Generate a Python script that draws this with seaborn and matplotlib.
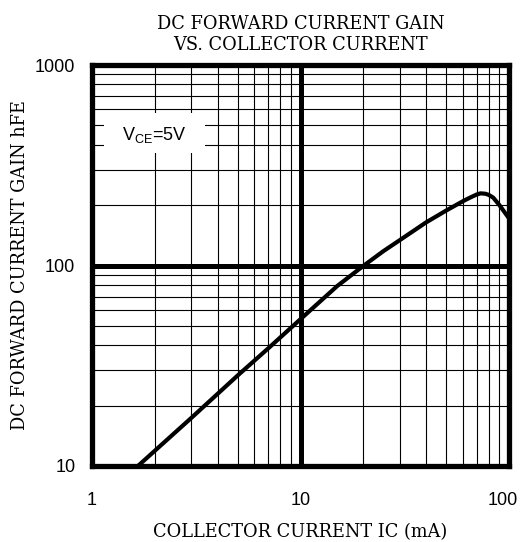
import matplotlib
matplotlib.use("Agg")
import matplotlib.pyplot as plt
import matplotlib.transforms as mtransforms
from matplotlib.ticker import LogLocator, FixedLocator, NullFormatter, FixedFormatter
from matplotlib.patches import Rectangle
import seaborn as sns
import pandas as pd

# Data
ic_ma = [1.66, 3, 5, 7, 10, 15, 20, 25, 30, 40, 50, 60, 65, 70, 73, 77, 80, 84, 90, 95, 100]
hfe = [10, 17.4, 28.3, 38.6, 54, 79, 99.5, 118, 134, 164, 188, 209, 218, 226, 229, 228, 225, 218, 200, 185, 172]

x_ticks = [1, 10, 100]
x_tick_labels = ["1", "10", "100"]
y_ticks = [10, 100, 1000]
y_tick_labels = ["10", "100", "1000"]

title = "DC FORWARD CURRENT GAIN\nVS. COLLECTOR CURRENT"
xlabel = "COLLECTOR CURRENT IC (mA)"
ylabel = "DC FORWARD CURRENT GAIN hFE"
note = r"V$_{\mathregular{CE}}$=5V"

sns.set_style("white")
plt.rcParams['font.family'] = ['Liberation Sans', 'DejaVu Sans']
plt.rcParams['mathtext.fontset'] = 'custom'
plt.rcParams['mathtext.rm'] = 'Liberation Sans'

df = pd.DataFrame({"ic": ic_ma, "hfe": hfe})

fig = plt.figure(figsize=(5.22, 5.42), dpi=100)
ax = fig.add_axes([92/522, 76/542, (509-92)/522, (466-65)/542])

sns.lineplot(data=df, x="ic", y="hfe", ax=ax, color="black", lw=3, zorder=5,
             sort=False, estimator=None)

ax.set_xscale("log")
ax.set_yscale("log")
ax.set_xlim(1, 100)
ax.set_ylim(10, 1000)

ax.xaxis.set_major_locator(FixedLocator(x_ticks))
ax.xaxis.set_major_formatter(FixedFormatter(x_tick_labels))
ax.yaxis.set_major_locator(FixedLocator(y_ticks))
ax.yaxis.set_major_formatter(FixedFormatter(y_tick_labels))
ax.xaxis.set_minor_locator(LogLocator(base=10, subs=range(2, 10)))
ax.yaxis.set_minor_locator(LogLocator(base=10, subs=range(2, 10)))
ax.xaxis.set_minor_formatter(NullFormatter())
ax.yaxis.set_minor_formatter(NullFormatter())

ax.grid(which="major", color="black", lw=3.6, zorder=1)
ax.grid(which="minor", color="black", lw=0.8, zorder=1)
ax.set_axisbelow(True)

ax.tick_params(which="both", length=0)
ax.tick_params(axis="x", pad=19, labelsize=13)
ax.tick_params(axis="y", pad=12, labelsize=13)
for lab in ax.get_xticklabels() + ax.get_yticklabels():
    lab.set_color("black")
# nudge the last x label left so it stays inside the figure
last = ax.get_xticklabels()[-1]
last.set_transform(last.get_transform() + mtransforms.ScaledTranslation(-6/100, 0, fig.dpi_scale_trans))

for s in ax.spines.values():
    s.set_visible(True)
    s.set_color("black")
    s.set_linewidth(3.8)
    s.set_zorder(6)

serif = ["DejaVu Serif"]
ax.set_xlabel(xlabel, family=serif, fontsize=12.8, labelpad=10, color="black")
ax.set_ylabel(ylabel, family=serif, fontsize=12.8, labelpad=4, color="black")
ax.set_title(title, family=serif, fontsize=12.8, pad=11, linespacing=1.2, color="black")

ax.add_patch(Rectangle((0.029, 0.78), 0.242, 0.10, transform=ax.transAxes,
                       fc="white", ec="none", zorder=3))
ax.text(2.0, 450, note, fontsize=13, ha="center", va="center", zorder=4, color="black")

fig.savefig("out.png", dpi=100)
